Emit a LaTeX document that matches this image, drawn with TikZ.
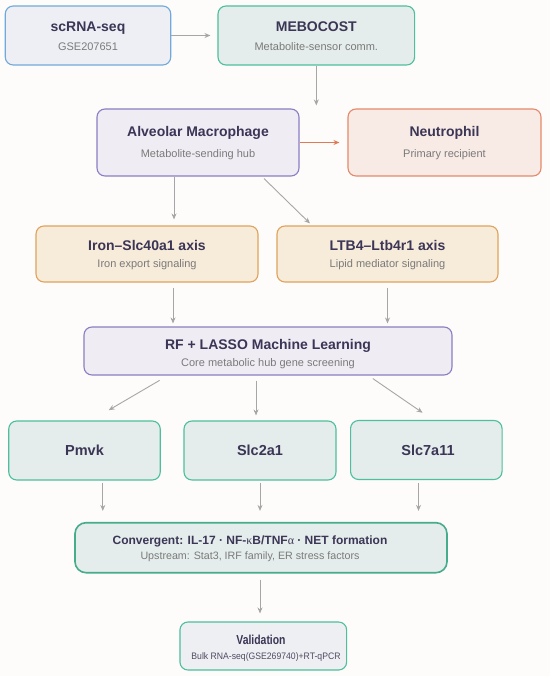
\documentclass[tikz,border=0pt]{standalone}
\usepackage{fontspec}
\setmainfont{Liberation Sans}
\newfontfamily\grkfont{Liberation Serif}
\usetikzlibrary{arrows.meta}
\definecolor{bgc}{HTML}{FDFCFB}
\definecolor{titc}{HTML}{3B3556}
\definecolor{subc}{HTML}{7A7A7A}
\definecolor{arrc}{HTML}{A6A6A6}
\definecolor{orng}{HTML}{E07A55}
\definecolor{bluF}{HTML}{EDEFF4}\definecolor{bluD}{HTML}{72A9DB}
\definecolor{tealF}{HTML}{E4EDEB}\definecolor{tealD}{HTML}{4DBF9C}
\definecolor{purF}{HTML}{F0ECF4}\definecolor{purD}{HTML}{8C7EC2}
\definecolor{redF}{HTML}{F8EAE5}\definecolor{redD}{HTML}{E4896A}
\definecolor{ambF}{HTML}{F7EBDA}\definecolor{ambD}{HTML}{DFA35C}
\definecolor{valF}{HTML}{EDEFF3}
\begin{document}
\begin{tikzpicture}[x=1pt,y=-1pt,
  box/.style={draw, rounded corners=8pt, line width=1.1pt, inner sep=0pt},
  ttl/.style={font=\bfseries\fontsize{14}{16}\selectfont, text=titc, anchor=base, inner sep=0pt},
  sub/.style={font=\fontsize{11}{13}\selectfont, text=subc, anchor=base, inner sep=0pt},
  arr/.style={draw=arrc, line width=0.9pt, -{Stealth[length=6pt,width=5pt]}},
  oarr/.style={draw=orng, line width=1.1pt, -{Stealth[length=6pt,width=5pt]}}]
\useasboundingbox[fill=bgc] (0,0) rectangle (550,676);

% boxes
\node[box, fill=bluF, draw=bluD, minimum width=165.5pt, minimum height=59pt] (scrna) at (88,35.5) {};
\node[box, fill=tealF, draw=tealD, minimum width=196.6pt, minimum height=59pt] (mebo) at (316.3,35.5) {};
\node[box, fill=purF, draw=purD, minimum width=202pt, minimum height=67pt] (alv) at (198,142.5) {};
\node[box, fill=redF, draw=redD, minimum width=193pt, minimum height=67pt] (neu) at (444.5,142.5) {};
\node[box, fill=ambF, draw=ambD, minimum width=222pt, minimum height=56pt] (iron) at (147,254) {};
\node[box, fill=ambF, draw=ambD, minimum width=221pt, minimum height=56pt] (ltb) at (387.5,254) {};
\node[box, fill=purF, draw=purD, minimum width=368pt, minimum height=48pt] (rf) at (268,351) {};
\node[box, fill=tealF, draw=tealD, minimum width=151.5pt, minimum height=59pt] (pmvk) at (84.5,450.5) {};
\node[box, fill=tealF, draw=tealD, minimum width=152pt, minimum height=59pt] (slc2) at (260,450.5) {};
\node[box, fill=tealF, draw=tealD, minimum width=151.5pt, minimum height=59pt] (slc7) at (426.3,450) {};
\node[box, fill=tealF, draw=tealD!90!black, line width=1.6pt, rounded corners=11pt, minimum width=372pt, minimum height=50pt] (conv) at (261,547.7) {};
\node[box, fill=valF, draw=tealD, minimum width=166.7pt, minimum height=48pt] (val) at (263.3,646) {};

% texts
\node[ttl] (scrnaT) at (88,32) {scRNA-seq};
\node[sub] (scrnaS) at (88,51) {GSE207651};
\node[ttl] (meboT) at (316.3,32) {MEBOCOST};
\node[sub] (meboS) at (316.3,51) {Metabolite-sensor comm.};
\node[ttl] (alvT) at (198,136.7) {Alveolar Macrophage};
\node[sub] (alvS) at (198,158) {Metabolite-sending hub};
\node[ttl] (neuT) at (444.5,136.7) {Neutrophil};
\node[sub] (neuS) at (444.5,158) {Primary recipient};
\node[ttl] (ironT) at (147,250) {Iron–Slc40a1 axis};
\node[sub] (ironS) at (147,267.3) {Iron export signaling};
\node[ttl] (ltbT) at (387.5,250) {LTB4–Ltb4r1 axis};
\node[sub] (ltbS) at (387.5,267.3) {Lipid mediator signaling};
\node[ttl] (rfT) at (268,349.3) {RF + LASSO Machine Learning};
\node[sub] (rfS) at (268,366) {Core metabolic hub gene screening};
\node[ttl, font=\bfseries\fontsize{14.5}{16}\selectfont] (pmvkT) at (84.5,455) {Pmvk};
\node[ttl, font=\bfseries\fontsize{14.5}{16}\selectfont] (slc2T) at (260,455) {Slc2a1};
\node[ttl, font=\bfseries\fontsize{14.5}{16}\selectfont] (slc7T) at (428,455) {Slc7a11};
\node[ttl, font=\bfseries\fontsize{12}{14}\selectfont] (convT) at (250,544.3) {Convergent: IL-17 · NF-{\grkfont\mdseries κ}B/TNF{\grkfont\mdseries α} · NET formation};
\node[sub, font=\fontsize{10.7}{12}\selectfont] (convS) at (250,559) {Upstream: Stat3, IRF family, ER stress factors};
\node[ttl, font=\bfseries\fontsize{13}{14}\selectfont] (valT) at (261,644.3) {\scalebox{0.8}[1]{Validation}};
\node[sub, font=\fontsize{9.4}{11}\selectfont, text=titc!70!gray] (valS) at (266,659.3) {\scalebox{0.92}[1]{Bulk RNA-seq(GSE269740)+RT-qPCR}};

% connectors
\draw[arr, shorten >=7pt] (scrna) -- (mebo);
\draw[arr, shorten >=3pt] (mebo.south) -- (mebo.south |- alv.north);
\draw[oarr, shorten >=8pt] (alv) -- (neu);
\coordinate (a1) at ([shift={(-24,0)}]alv.south);
\draw[arr, shorten >=6pt] (a1) -- (a1 |- iron.north);
\coordinate (a2s) at ([shift={(66,2)}]alv.south);
\coordinate (a2e) at ([shift={(-77.5,-2)}]ltb.north);
\draw[arr] (a2s) -- (a2e);
\coordinate (b1) at ([shift={(26,5)}]iron.south);
\draw[arr, shorten >=3pt] (b1) -- (b1 |- rf.north);
\coordinate (b2) at ([shift={(0,5)}]ltb.south);
\draw[arr, shorten >=3pt] (b2) -- (b2 |- rf.north);
\coordinate (c1s) at ([shift={(-108.4,4.8)}]rf.south);
\coordinate (c1e) at ([shift={(24.2,-10.3)}]pmvk.north);
\draw[arr] (c1s) -- (c1e);
\coordinate (c2s) at ([shift={(-12,5)}]rf.south);
\draw[arr, shorten >=5pt] (c2s) -- (c2s |- slc2.north);
\coordinate (c3s) at ([shift={(104.8,3)}]rf.south);
\coordinate (c3e) at ([shift={(-3.7,-7.2)}]slc7.north);
\draw[arr] (c3s) -- (c3e);
\coordinate (d1) at ([shift={(18.3,2)}]pmvk.south);
\draw[arr, shorten >=11pt] (d1) -- (d1 |- conv.north);
\coordinate (d2) at ([shift={(0,2)}]slc2.south);
\draw[arr, shorten >=11pt] (d2) -- (d2 |- conv.north);
\coordinate (d3) at ([shift={(-7.8,3)}]slc7.south);
\draw[arr, shorten >=11pt] (d3) -- (d3 |- conv.north);
\coordinate (e1) at ([shift={(-1,6)}]conv.south);
\draw[arr, shorten >=8pt] (e1) -- (e1 |- val.north);
\end{tikzpicture}
\end{document}
